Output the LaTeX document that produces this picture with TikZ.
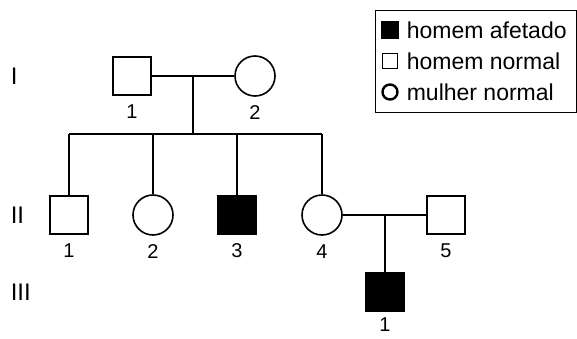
\documentclass[tikz,border=0pt]{standalone}
\usepackage{fontspec}
\setmainfont{Liberation Sans}
\begin{document}
\begin{tikzpicture}[x=1pt,y=-1pt,line width=1.6pt,
  male/.style={draw,rectangle,minimum size=38pt,inner sep=0pt},
  female/.style={draw,circle,minimum size=40pt,inner sep=0pt},
  affected/.style={fill=black},
  gen/.style={anchor=west,inner sep=0pt,font=\fontsize{24}{28}\selectfont},
  keytext/.style={anchor=west,inner sep=0pt,font=\fontsize{23}{27}\selectfont},
  every label/.style={inner sep=0pt,font=\fontsize{20}{24}\selectfont},
  label distance=8pt]
\useasboundingbox (0,0) rectangle (577,338);

\node[gen] (g1) at (10,76) {I};
\node[gen] (g2) at (10,215) {II};
\node[gen] (g3) at (10,292) {III};

\node[male,label=below:1] (i1) at (132,76) {};
\node[female,label=below:2] (i2) at (255,76) {};
\node[male,label=below:1] (ii1) at (69,215) {};
\node[female,label=below:2] (ii2) at (153,215) {};
\node[male,affected,label=below:3] (ii3) at (237,215) {};
\node[female,label=below:4] (ii4) at (322,215) {};
\node[male,label=below:5] (ii5) at (446,215) {};
\node[male,affected,label={[label distance=5pt]below:1}] (iii1) at (385,292) {};

\draw (i1) -- (i2);
\coordinate (c1) at (193,76);
\coordinate (s1) at (193,134);
\draw (c1) -- (s1);
\draw (ii1 |- s1) -- (ii4 |- s1);
\foreach \k in {ii1,ii2,ii3,ii4}
  \draw (\k |- s1) -- (\k);
\draw (ii4) -- (ii5);
\coordinate (c2) at (385,215);
\draw (c2) -- (iii1);

\node[draw,line width=1.4pt,minimum width=201pt,minimum height=102pt,anchor=north west,inner sep=0pt] (key) at (375,10) {};
\node[male,affected,minimum size=16pt] (k1) at (390,30) {};
\node[male,minimum size=15pt] (k2) at (390,61) {};
\node[female,line width=2.4pt,minimum size=15pt] (k3) at (390,92) {};
\node[keytext] (t1) at (406,30) {homem afetado};
\node[keytext] (t2) at (406,61) {homem normal};
\node[keytext] (t3) at (406,92) {mulher normal};
\end{tikzpicture}
\end{document}
